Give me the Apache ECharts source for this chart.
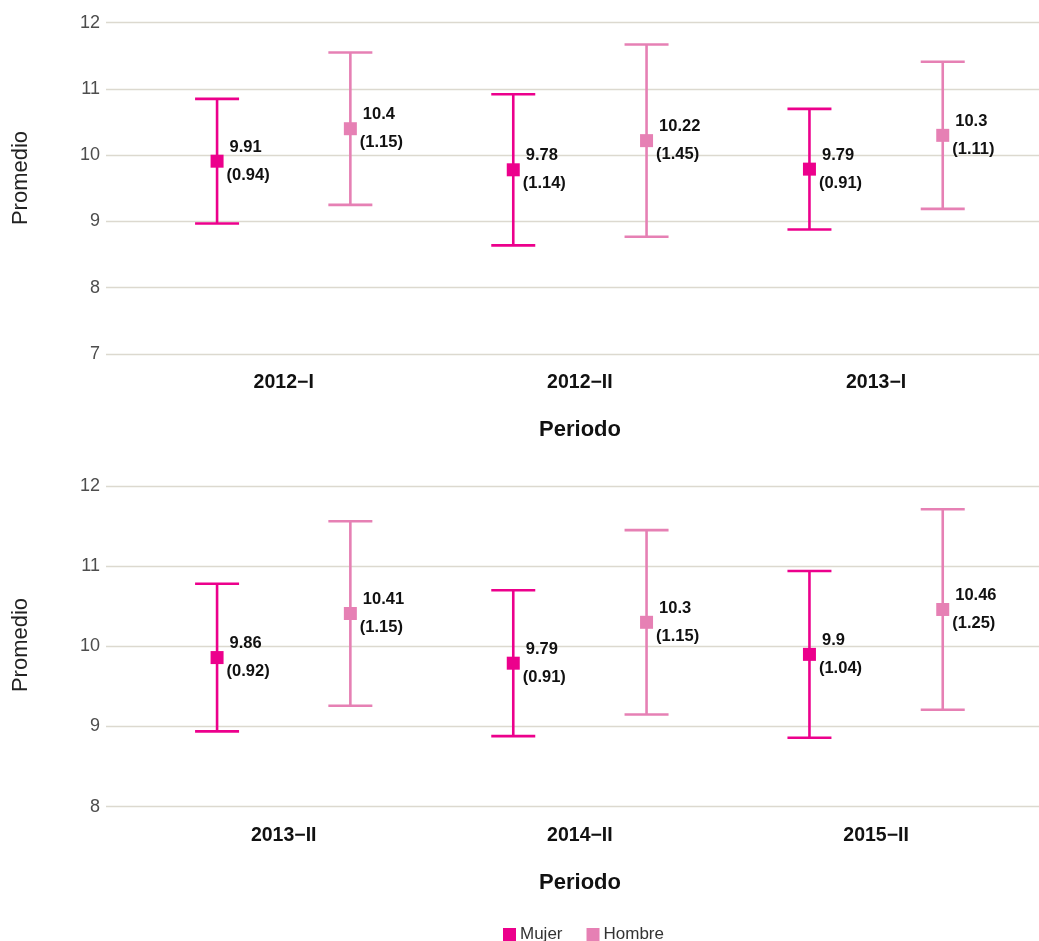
<!DOCTYPE html>
<html>
<head>
<meta charset="utf-8">
<script src="https://cdn.jsdelivr.net/npm/echarts@6/dist/echarts.min.js"></script>
<style>
html,body{margin:0;padding:0;background:#fff;}
#chart{width:1039px;height:941px;}
</style>
</head>
<body>
<div id="chart"></div>
<script>
// ---- data ----
const categoriesTop = ['2012\u2212I', '2012\u2212II', '2013\u2212I'];
const categoriesBottom = ['2013\u2212II', '2014\u2212II', '2015\u2212II'];
const mujerMeanTop = [9.91, 9.78, 9.79];
const mujerSdTop = [0.94, 1.14, 0.91];
const hombreMeanTop = [10.4, 10.22, 10.3];
const hombreSdTop = [1.15, 1.45, 1.11];
const mujerMeanBottom = [9.86, 9.79, 9.9];
const mujerSdBottom = [0.92, 0.91, 1.04];
const hombreMeanBottom = [10.41, 10.3, 10.46];
const hombreSdBottom = [1.15, 1.15, 1.25];
const yTicksTop = [7, 8, 9, 10, 11, 12];
const yTicksBottom = [8, 9, 10, 11, 12];

const COLOR_M = '#ec008c';
const COLOR_H = '#e680b4';
const FONT = '"Liberation Sans", Arial, sans-serif';
const OFFSET = 0.225;

function points(means, sds, off) {
  return means.map((m, i) => [i + off, m, sds[i]]);
}
function bars(means, sds, off) {
  return means.map((m, i) => [i + off, m - sds[i], m + sds[i]]);
}

function errorSeries(name, data, color, idx) {
  return {
    type: 'custom', name: name, xAxisIndex: idx, yAxisIndex: idx, z: 2,
    silent: true,
    data: data,
    renderItem: function (params, api) {
      const x = api.value(0);
      const top = api.coord([x, api.value(2)]);
      const bot = api.coord([x, api.value(1)]);
      const hw = 22;
      const st = { stroke: color, lineWidth: 2.6 };
      return {
        type: 'group',
        children: [
          { type: 'line', shape: { x1: top[0], y1: top[1], x2: bot[0], y2: bot[1] }, style: st },
          { type: 'line', shape: { x1: top[0] - hw, y1: top[1], x2: top[0] + hw, y2: top[1] }, style: st },
          { type: 'line', shape: { x1: bot[0] - hw, y1: bot[1], x2: bot[0] + hw, y2: bot[1] }, style: st }
        ]
      };
    }
  };
}

function pointSeries(name, data, color, idx) {
  return {
    type: 'scatter', name: name, xAxisIndex: idx, yAxisIndex: idx, z: 3,
    symbol: 'rect', symbolSize: 13,
    itemStyle: { color: color, opacity: 1 },
    data: data,
    label: {
      show: true, position: 'right', distance: 3,
      formatter: function (p) {
        return '{a|' + String(p.value[1]) + '}\n{b|(' + String(p.value[2]) + ')}';
      },
      rich: {
        a: { fontFamily: FONT, fontWeight: 'bold', fontSize: 16.5, color: '#111', lineHeight: 28, padding: [0, 0, 0, 3] },
        b: { fontFamily: FONT, fontWeight: 'bold', fontSize: 16.5, color: '#111', lineHeight: 28 }
      }
    }
  };
}

function xAxis(idx, cats) {
  return {
    type: 'value', gridIndex: idx, min: -0.6, max: 2.55,
    axisLine: { show: false }, axisTick: { show: false }, splitLine: { show: false },
    axisLabel: {
      customValues: [0, 1, 2],
      formatter: function (v) { return cats[Math.round(v)]; },
      fontFamily: FONT, fontWeight: 'bold', fontSize: 19.5, color: '#111', margin: 19
    },
    name: 'Periodo', nameLocation: 'middle', nameGap: 65,
    nameTextStyle: { fontFamily: FONT, fontWeight: 'bold', fontSize: 22, color: '#111', padding: [0, 0, 0, 15] }
  };
}

function yAxis(idx, ticks) {
  return {
    type: 'value', gridIndex: idx, min: ticks[0], max: ticks[ticks.length - 1], interval: 1,
    axisLine: { show: false }, axisTick: { show: false },
    splitLine: { show: true, lineStyle: { color: '#dcd9cf', width: 1.3 } },
    axisLabel: { fontFamily: FONT, fontSize: 18, color: '#4d4d4d', margin: 6 }
  };
}

const chart = echarts.init(document.getElementById('chart'), null, { renderer: 'canvas' });
chart.setOption({
  backgroundColor: '#ffffff',
  animation: false,
  grid: [
    { left: 106, right: 0, top: 22.7, height: 331.3 },
    { left: 106, right: 0, top: 486, height: 320.7 }
  ],
  xAxis: [xAxis(0, categoriesTop), xAxis(1, categoriesBottom)],
  yAxis: [yAxis(0, yTicksTop), yAxis(1, yTicksBottom)],
  legend: {
    data: ['Mujer', 'Hombre'], left: 498, top: 921,
    icon: 'rect', itemWidth: 13, itemHeight: 13, itemGap: 24,
    textStyle: { fontFamily: FONT, fontSize: 17, color: '#333', padding: [0, 0, 0, -1] }
  },
  graphic: [
    { type: 'text', x: 21, y: 178, rotation: Math.PI / 2,
      style: { text: 'Promedio', font: '22px ' + FONT, fill: '#222', textAlign: 'center', textVerticalAlign: 'middle' } },
    { type: 'text', x: 21, y: 645, rotation: Math.PI / 2,
      style: { text: 'Promedio', font: '22px ' + FONT, fill: '#222', textAlign: 'center', textVerticalAlign: 'middle' } }
  ],
  series: [
    errorSeries('errM0', bars(mujerMeanTop, mujerSdTop, -OFFSET), COLOR_M, 0),
    errorSeries('errH0', bars(hombreMeanTop, hombreSdTop, OFFSET), COLOR_H, 0),
    errorSeries('errM1', bars(mujerMeanBottom, mujerSdBottom, -OFFSET), COLOR_M, 1),
    errorSeries('errH1', bars(hombreMeanBottom, hombreSdBottom, OFFSET), COLOR_H, 1),
    pointSeries('Mujer', points(mujerMeanTop, mujerSdTop, -OFFSET), COLOR_M, 0),
    pointSeries('Hombre', points(hombreMeanTop, hombreSdTop, OFFSET), COLOR_H, 0),
    pointSeries('Mujer', points(mujerMeanBottom, mujerSdBottom, -OFFSET), COLOR_M, 1),
    pointSeries('Hombre', points(hombreMeanBottom, hombreSdBottom, OFFSET), COLOR_H, 1)
  ]
});
</script>
</body>
</html>
